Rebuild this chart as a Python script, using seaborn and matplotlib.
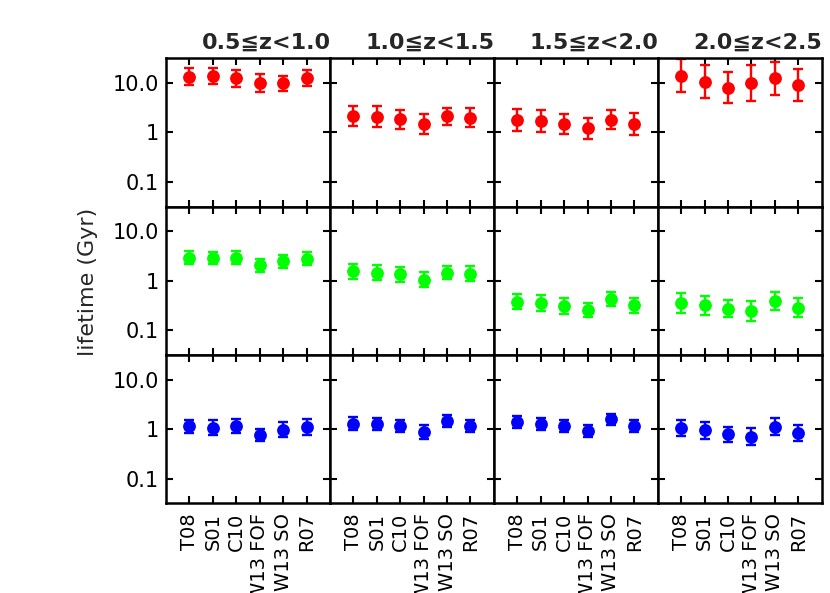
import numpy as np
import pandas as pd
import seaborn as sns
import matplotlib
matplotlib.use('Agg')
import matplotlib.pyplot as plt
from matplotlib.ticker import FixedLocator, FixedFormatter, NullLocator

models = ['T08', 'S01', 'C10', 'W13 FOF', 'W13 SO', 'R07']
z_bins = ['0.5≦z<1.0', '1.0≦z<1.5', '1.5≦z<2.0', '2.0≦z<2.5']
row_colors = ['#ff0000', '#00ff00', '#0000ff']

# lifetime (Gyr) per redshift bin, and half-width of the error bar in dex
red_life = [[13.3, 13.8, 12.3, 9.8, 9.8, 12.5],
            [2.16, 2.07, 1.85, 1.47, 2.10, 1.97],
            [1.80, 1.69, 1.47, 1.20, 1.80, 1.47],
            [13.9, 10.6, 8.0, 9.95, 12.3, 9.1]]
red_err = [[0.17, 0.17, 0.17, 0.18, 0.15, 0.16],
           [0.20, 0.21, 0.19, 0.20, 0.175, 0.19],
           [0.22, 0.23, 0.21, 0.22, 0.19, 0.23],
           [0.335, 0.33, 0.31, 0.36, 0.33, 0.33]]

green_life = [[2.92, 2.88, 2.92, 2.07, 2.50, 2.82],
              [1.57, 1.47, 1.36, 1.06, 1.47, 1.38],
              [0.38, 0.35, 0.31, 0.256, 0.43, 0.32],
              [0.36, 0.32, 0.275, 0.244, 0.39, 0.285]]
green_err = [[0.13, 0.13, 0.13, 0.13, 0.13, 0.13],
             [0.15, 0.15, 0.15, 0.15, 0.14, 0.15],
             [0.15, 0.16, 0.155, 0.15, 0.14, 0.155],
             [0.20, 0.19, 0.18, 0.195, 0.18, 0.19]]

blue_life = [[1.15, 1.08, 1.18, 0.77, 0.98, 1.11],
             [1.30, 1.26, 1.18, 0.88, 1.47, 1.18],
             [1.39, 1.26, 1.17, 0.92, 1.60, 1.17],
             [1.06, 0.95, 0.79, 0.71, 1.13, 0.85]]
blue_err = [[0.13, 0.15, 0.145, 0.12, 0.155, 0.155],
            [0.125, 0.12, 0.12, 0.135, 0.115, 0.12],
            [0.12, 0.125, 0.12, 0.13, 0.11, 0.12],
            [0.17, 0.17, 0.155, 0.165, 0.17, 0.16]]

# long table: one row per point
records = []
for r, (life, err) in enumerate([(red_life, red_err), (green_life, green_err), (blue_life, blue_err)]):
    for c in range(len(z_bins)):
        for m in range(len(models)):
            records.append({'row': r, 'col': c, 'pos': m + 1,
                            'life': life[c][m], 'dex': err[c][m]})
df = pd.DataFrame(records)
df['lo'] = df['life'] / 10 ** df['dex']
df['hi'] = df['life'] * 10 ** df['dex']

sns.set_style('ticks')
plt.rcParams['font.family'] = ['DejaVu Sans', 'Noto Sans CJK JP']

fig, axes = plt.subplots(3, 4, figsize=(8.3, 5.93), dpi=100, sharex=True, sharey=True)
fig.subplots_adjust(left=0.2, right=0.99, top=0.902, bottom=0.151, wspace=0, hspace=0)

for r in range(3):
    for c in range(4):
        ax = axes[r, c]
        sub = df[(df.row == r) & (df.col == c)]
        col = row_colors[r]
        ax.errorbar(sub['pos'], sub['life'],
                    yerr=[sub['life'] - sub['lo'], sub['hi'] - sub['life']],
                    fmt='none', ecolor=col, elinewidth=1.7, capsize=3.5, capthick=1.7, zorder=2)
        sns.scatterplot(data=sub, x='pos', y='life', color=col, s=85,
                        edgecolor=col, linewidth=0, ax=ax, zorder=3)
        ax.set_yscale('log')
        ax.set_ylim(10 ** -1.5, 10 ** 1.5)
        ax.set_xlim(0, 7)
        ax.set_xlabel('')
        ax.set_ylabel('')
        ax.yaxis.set_major_locator(FixedLocator([0.1, 1, 10]))
        ax.yaxis.set_major_formatter(FixedFormatter(['0.1', '1', '10.0']))
        ax.yaxis.set_minor_locator(NullLocator())
        ax.xaxis.set_major_locator(FixedLocator(range(1, len(models) + 1)))
        ax.xaxis.set_major_formatter(FixedFormatter(models))
        ax.tick_params(direction='in', length=5, width=1.5, top=True, right=True,
                       colors='black')
        ax.tick_params(axis='y', labelsize=15, pad=5)
        ax.tick_params(axis='x', labelsize=14, labelrotation=90, pad=7)
        for s in ax.spines.values():
            s.set_linewidth(1.8)
            s.set_color('black')
        if r == 0:
            ax.set_title(z_bins[c], x=0.61, pad=7, fontsize=16, fontweight='bold')

fig.text(0.106, 0.525, 'lifetime (Gyr)', rotation=90, ha='center', va='center', fontsize=16)

fig.savefig('out.png', dpi=100)
